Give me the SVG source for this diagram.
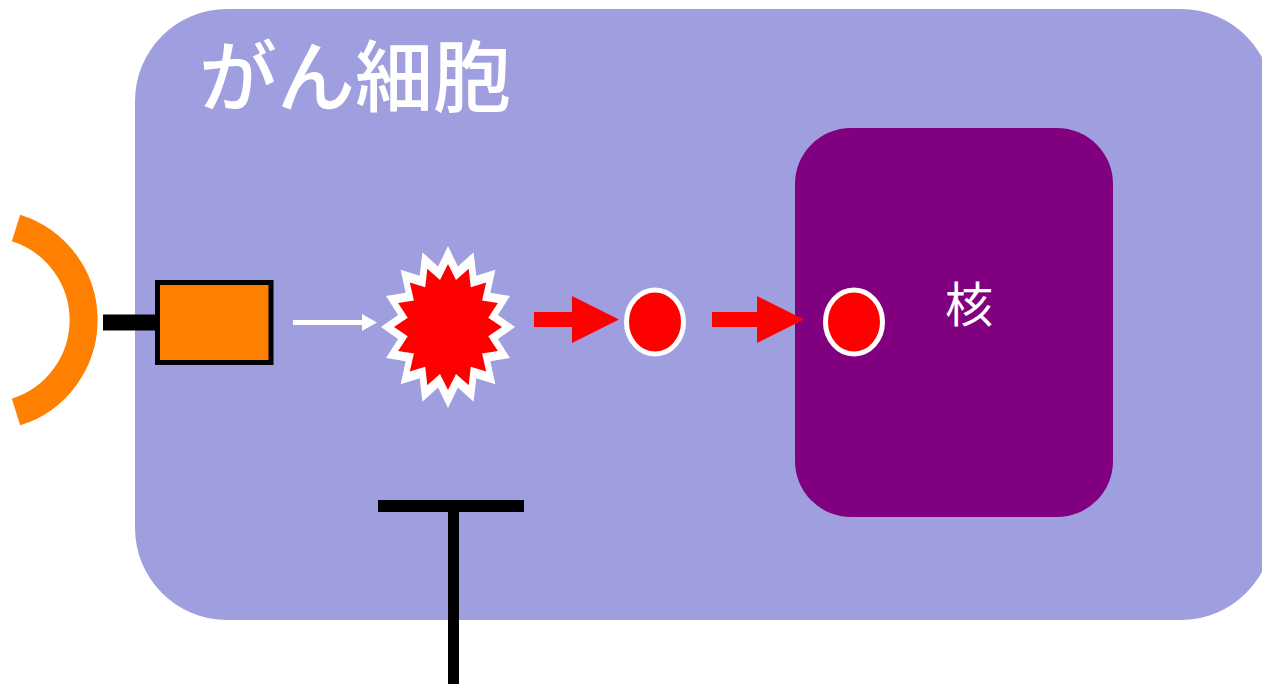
<svg xmlns="http://www.w3.org/2000/svg" width="1262" height="684" viewBox="0 0 1262 684">
  <style>
    .cjk { font-family: "Noto Sans CJK JP", "Noto Sans CJK SC", sans-serif; fill: #ffffff; }
    .bar { fill: #000000; }
    .flow { fill: #ff0000; }
    .dot { fill: #ff0000; stroke: #ffffff; stroke-width: 5; }
  </style>
  <defs>
    <!-- 16-point star of unit radius, inner vertices at 0.76 -->
    <polygon id="star16" points="0,-1 0.1483,-0.7454 0.3827,-0.9239 0.4223,-0.6319 0.7071,-0.7071 0.6319,-0.4223 0.9239,-0.3827 0.7454,-0.1483 1,0 0.7454,0.1483 0.9239,0.3827 0.6319,0.4223 0.7071,0.7071 0.4223,0.6319 0.3827,0.9239 0.1483,0.7454 0,1 -0.1483,0.7454 -0.3827,0.9239 -0.4223,0.6319 -0.7071,0.7071 -0.6319,0.4223 -0.9239,0.3827 -0.7454,0.1483 -1,0 -0.7454,-0.1483 -0.9239,-0.3827 -0.6319,-0.4223 -0.7071,-0.7071 -0.4223,-0.6319 -0.3827,-0.9239 -0.1483,-0.7454"/>
  </defs>

  <!-- cell body -->
  <g id="cell">
    <rect x="135" y="9" width="1138" height="611" rx="92" ry="92" fill="#9f9fdf"/>
    <text class="cjk" x="199" y="106" font-size="78" font-weight="500">がん細胞</text>
  </g>

  <!-- nucleus -->
  <g id="nucleus">
    <rect x="795" y="128" width="318" height="389" rx="56" ry="56" fill="#800080"/>
    <text class="cjk" x="969" y="322" font-size="48" text-anchor="middle">核</text>
  </g>

  <!-- ligand arc outside the cell -->
  <g id="ligand">
    <path d="M16,228 A96.4,96.4 0 0 1 16,412" fill="none" stroke="#ff8000" stroke-width="28"/>
  </g>

  <!-- receptor: stem and box -->
  <g id="receptor">
    <rect class="bar" x="103" y="314.5" width="54" height="16"/>
    <rect x="157.5" y="282.5" width="113.5" height="80" fill="#ff8000" stroke="#000000" stroke-width="5"/>
  </g>

  <!-- activation burst -->
  <g id="burst">
    <use href="#star16" fill="#ffffff" transform="translate(448,327) scale(67,81)"/>
    <use href="#star16" fill="#ff0000" transform="translate(448,327) scale(54,63)"/>
  </g>

  <!-- signal molecules -->
  <g id="signal-cytoplasm">
    <ellipse class="dot" cx="655" cy="322" rx="28.5" ry="32"/>
  </g>
  <g id="signal-nucleus">
    <ellipse class="dot" cx="854" cy="322" rx="28.5" ry="32"/>
  </g>

  <!-- inhibitor T-bar -->
  <g id="inhibitor">
    <rect class="bar" x="378" y="500" width="146" height="12"/>
    <rect class="bar" x="448" y="506" width="11" height="178"/>
  </g>

  <!-- connectors -->
  <g id="connectors">
    <line x1="293" y1="322.5" x2="364" y2="322.5" stroke="#ffffff" stroke-width="5"/>
    <polygon points="362,314 377,322.5 362,331" fill="#ffffff"/>
    <polygon class="flow" points="534,312 572,312 572,296 619,319.5 572,343 572,327 534,327"/>
    <polygon class="flow" points="712,312 757,312 757,296 804,319.5 757,343 757,327 712,327"/>
  </g>
</svg>
